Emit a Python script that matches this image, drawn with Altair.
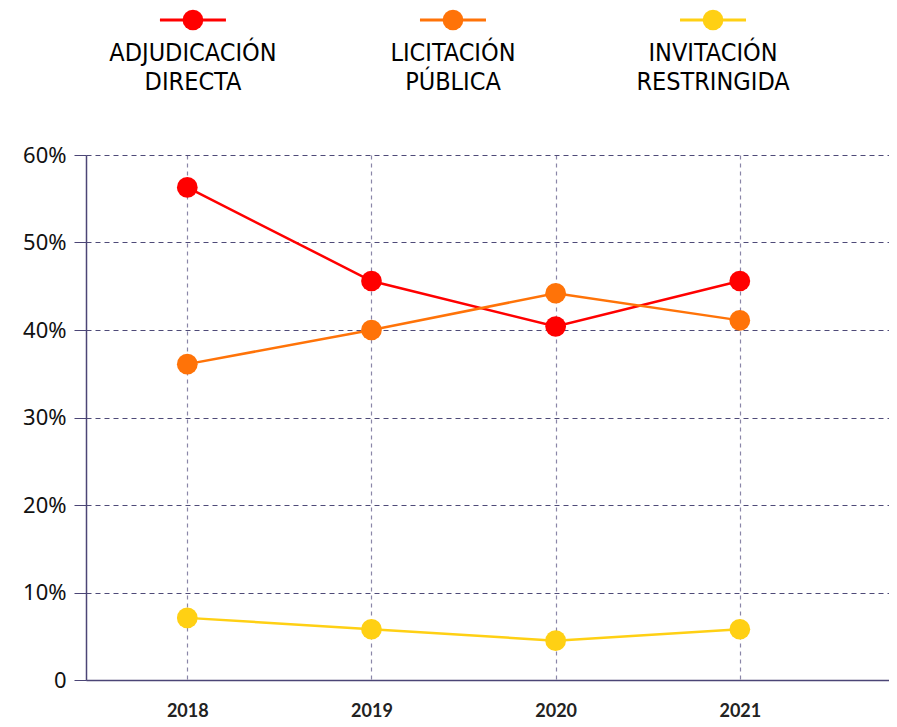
import altair as alt
import pandas as pd

years = [2018, 2019, 2020, 2021]
series = ["Adjudicación directa", "Licitación pública", "Invitación restringida"]
legend_labels = ["ADJUDICACIÓN\nDIRECTA", "LICITACIÓN\nPÚBLICA", "INVITACIÓN\nRESTRINGIDA"]
colors = ["#FF0000", "#FF7308", "#FFD014"]
adjudicacion = [56.3, 45.6, 40.4, 45.6]
licitacion = [36.1, 40.0, 44.2, 41.1]
invitacion = [7.1, 5.8, 4.5, 5.8]
y_ticks = [0, 10, 20, 30, 40, 50, 60]

rows = []
for s, vals in zip(series, [adjudicacion, licitacion, invitacion]):
    for yr, v in zip(years, vals):
        rows.append({"year": yr, "series": s, "value": v})
df = pd.DataFrame(rows)
leg_df = pd.DataFrame({"series": series, "label": legend_labels})

color_scale = alt.Scale(domain=series, range=colors)

# ---- main plot ----
base = alt.Chart(df).encode(
    x=alt.X(
        "year:Q",
        scale=alt.Scale(domain=[2017.45, 2021.81], nice=False, zero=False),
        axis=alt.Axis(
            values=years, format="d", title=None, ticks=False, grid=True,
            gridDash=[4, 4], gridColor="#8a86a8", gridWidth=1.2,
            domainColor="#4b4576", domainWidth=1.5,
            labelFont="Lato", labelFontWeight="bold", labelFontSize=18,
            labelColor="#222222", labelPadding=22,
        ),
    ),
    y=alt.Y(
        "value:Q",
        scale=alt.Scale(domain=[0, 60], nice=False),
        axis=alt.Axis(
            values=y_ticks, title=None, grid=True, gridDash=[5, 4],
            gridColor="#4e4a78", gridWidth=1,
            labelExpr="datum.value == 0 ? '0' : datum.value + '%'",
            tickSize=12, tickColor="#4b4576", domainColor="#4b4576", domainWidth=1.5,
            labelFont="Noto Sans", labelFontSize=22, labelColor="#111111",
            labelPadding=8, minExtent=78,
        ),
    ),
    color=alt.Color("series:N", scale=color_scale, legend=None),
)
lines = base.mark_line(strokeWidth=2.5)
points = base.mark_circle(size=430, opacity=1)

# ---- legend drawn above the plot area ----
leg_x = alt.X(
    "series:N",
    scale=alt.Scale(type="point", domain=series, padding=0.544, align=0.378),
    axis=None,
)
leg_base = alt.Chart(leg_df).encode(
    x=leg_x,
    color=alt.Color("series:N", scale=color_scale, legend=None),
)
leg_rule = leg_base.mark_rule(xOffset=-33, x2Offset=33, strokeWidth=3).encode(
    x2="series:N", y=alt.value(-135)
)
leg_pt = leg_base.mark_circle(size=430, opacity=1).encode(y=alt.value(-135))
leg_txt = alt.Chart(leg_df).mark_text(
    lineBreak="\n", fontSize=25, font="DejaVu Sans Condensed", baseline="middle",
    lineHeight=29, color="#000000"
).encode(x=leg_x, y=alt.value(-102), text="label:N")
legend = alt.layer(leg_rule, leg_pt, leg_txt)

main = alt.layer(lines, points)
chart = alt.layer(main, legend).resolve_scale(x="independent").properties(
    width=803, height=525,
    padding={"left": 0, "top": 1, "right": 0, "bottom": 0},
).configure_view(stroke=None)

chart.save("out.html", embed_options={"renderer": "svg", "actions": False})
